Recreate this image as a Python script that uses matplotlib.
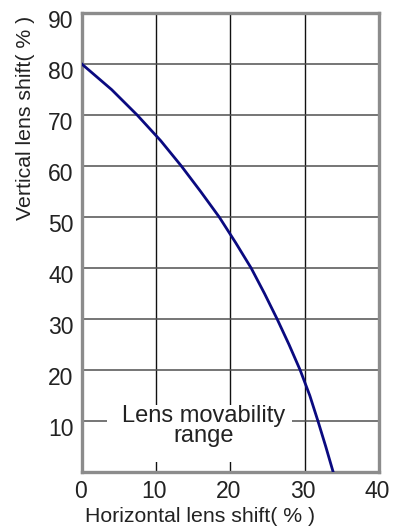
import matplotlib
matplotlib.use("Agg")
import matplotlib.pyplot as plt
from matplotlib.patches import Rectangle
from matplotlib.transforms import ScaledTranslation

# curve: horizontal shift (%) at each vertical shift (%)
h_shift = [0, 4.0, 7.45, 10.6, 13.4, 16.0, 18.5, 20.7, 22.8, 24.6, 26.3, 27.9, 29.4, 30.7, 31.8, 32.85, 33.85]
v_shift = [80, 75, 70, 65, 60, 55, 50, 45, 40, 35, 30, 25, 20, 15, 10, 5, 0]

x_ticks = [0, 10, 20, 30, 40]
y_ticks = [10, 20, 30, 40, 50, 60, 70, 80, 90]

plt.rcParams["font.family"] = ["Liberation Sans", "DejaVu Sans"]
txt = "#222222"

fig = plt.figure(figsize=(4.06, 5.28), dpi=100)
ax = fig.add_axes([0.202, 0.106, 0.731, 0.869])

ax.set_xlim(0, 40)
ax.set_ylim(0, 90)
ax.set_xticks(x_ticks)
ax.set_yticks(y_ticks)
ax.tick_params(length=0, labelsize=16.5, pad=6, colors=txt)

# tick labels sit a little off the grid lines in the original
for lab in ax.get_yticklabels():
    lab.set_transform(lab.get_transform() + ScaledTranslation(0, -0.055, fig.dpi_scale_trans))
for lab in ax.get_xticklabels():
    lab.set_transform(lab.get_transform() + ScaledTranslation(-0.02, 0, fig.dpi_scale_trans))

for x in x_ticks[1:-1]:
    ax.axvline(x, color="#111111", lw=1.0, zorder=1)
for y in y_ticks[:-1]:
    ax.axhline(y, color="#505050", lw=1.1, zorder=1)

for s in ax.spines.values():
    s.set_color("#8c8c8c")
    s.set_linewidth(2.4)

ax.plot(h_shift, v_shift, color="#0a0a80", lw=2.0, zorder=4)

# white patch behind the label, covering the grid
ax.add_patch(Rectangle((3.4, 2.0), 24.9, 11.1, facecolor="white", edgecolor="none", zorder=2))
ax.text(16.4, 9.0, "Lens movability\nrange", ha="center", va="center",
        fontsize=17, color=txt, linespacing=0.88, zorder=3)

ax.set_xlabel("Horizontal lens shift( % )", fontsize=15.3, color=txt)
ax.set_ylabel("Vertical lens shift( % )", fontsize=15.3, color=txt)
ax.xaxis.set_label_coords(0.397, -0.076)
ax.yaxis.set_label_coords(-0.16, 0.771)

fig.savefig("out.png", dpi=100)
